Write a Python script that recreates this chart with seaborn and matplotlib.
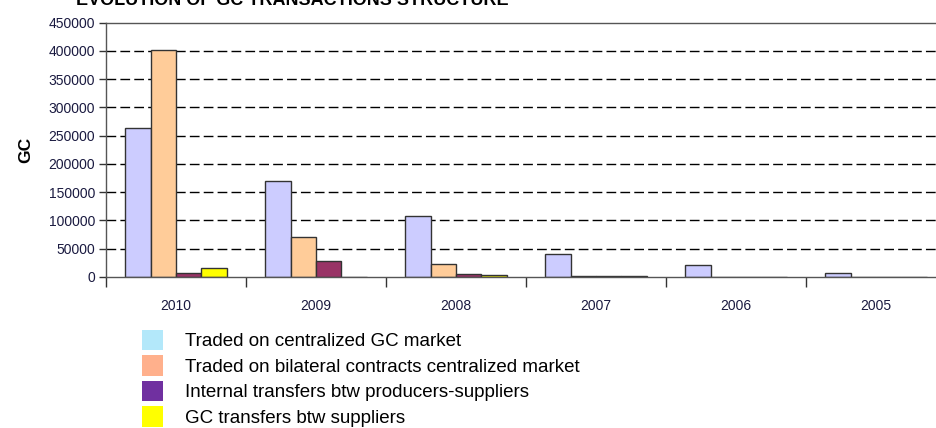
import pandas as pd
import numpy as np
import seaborn as sns
import matplotlib.pyplot as plt
from matplotlib.patches import Patch

# Datos
years = ['2010', '2009', '2008', '2007', '2006', '2005']
centralized = [264000, 170000, 107500, 40000, 22000, 7000]
bilateral = [401000, 70500, 23500, 1500, 0, 0]
internal = [6500, 29000, 6000, 1500, 0, 0]
suppliers = [15500, 0, 3000, 1500, 0, 0]

series_names = ['Traded on centralized GC market',
                'Traded on bilateral contracts centralized market',
                'Internal transfers btw producers-suppliers',
                'GC transfers btw suppliers']
bar_colors = ['#CCCCFF', '#FFCC99', '#993366', '#FFFF00']
legend_colors = ['#B3E8FA', '#FFB08C', '#7030A0', '#FFFF00']

y_ticks = list(range(0, 450001, 50000))

sns.set_theme(style='white')
plt.rcParams['font.family'] = ['Liberation Sans Narrow', 'Liberation Sans', 'DejaVu Sans']

# Tabla larga para seaborn
data = pd.DataFrame({
    'year': years * 4,
    'value': centralized + bilateral + internal + suppliers,
    'series': [s for s in series_names for _ in years],
})

fig = plt.figure(figsize=(9.37, 4.28), dpi=100)
ax = fig.add_axes([106 / 937, 1 - 277 / 428, 840 / 937, 254.5 / 428])

sns.barplot(data=data, x='year', y='value', hue='series', order=years,
            hue_order=series_names, palette=bar_colors, width=4 / 5.5,
            edgecolor='#333333', linewidth=1.0, legend=False, ax=ax,
            saturation=1)

ax.set_ylim(0, 450000)
ax.set_xlim(-0.5, 5.5)
ax.set_yticks(y_ticks)
ax.set_yticklabels([str(v) for v in y_ticks], fontsize=10, color='#1a1a40')
ax.set_xticks(range(len(years)))
ax.set_xticklabels(years, fontsize=10, color='#1a1a40')
ax.set_xticks(np.arange(-0.5, 5.6, 1), minor=True)
ax.tick_params(axis='x', which='major', bottom=True, length=0, pad=16)
ax.tick_params(axis='x', which='minor', bottom=True, length=7, width=1, color='#333333', direction='out')
ax.tick_params(axis='y', left=True, length=5, width=1, color='#333333', direction='out', pad=3)
ax.set_xlabel('')
ax.set_ylabel('GC', fontsize=12.5, fontweight='bold', family=['Liberation Sans', 'DejaVu Sans'],
              color='black', labelpad=11)

for y in y_ticks[1:-1]:
    ax.axhline(y, color='black', linestyle=(0, (7, 3)), linewidth=1, zorder=0)

for side in ['left', 'bottom', 'top']:
    ax.spines[side].set_visible(True)
    ax.spines[side].set_color('#555555')
    ax.spines[side].set_linewidth(1)
ax.spines['right'].set_visible(False)

# Titulo cortado arriba, como en el original
fig.text(76 / 937, 1 - 5 / 428, 'EVOLUTION OF GC TRANSACTIONS STRUCTURE',
         fontsize=13, fontweight='bold', family=['Liberation Sans', 'DejaVu Sans'],
         color='black', ha='left', va='baseline')

handles = [Patch(facecolor=c, edgecolor='none') for c in legend_colors]
fig.legend(handles, series_names, loc='upper left', bbox_to_anchor=(142 / 937, 1 - 330 / 428),
           frameon=False, handlelength=1.1, handleheight=1.3,
           handletextpad=1.2, labelspacing=0.26, borderaxespad=0, borderpad=0,
           labelcolor='black',
           prop={'family': ['Liberation Sans', 'DejaVu Sans'], 'size': 13.5})

fig.savefig('out.png', dpi=100)
